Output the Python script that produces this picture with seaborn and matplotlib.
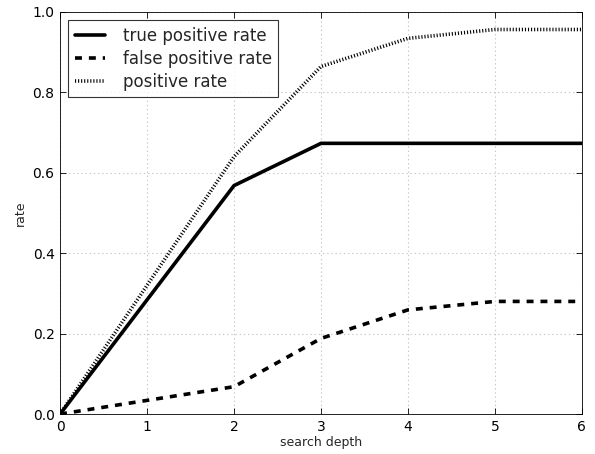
import matplotlib
matplotlib.use("Agg")
import matplotlib.pyplot as plt
import pandas as pd
import seaborn as sns

# values
depth = [0, 1, 2, 3, 4, 5, 6]
true_pos = [0.0, 0.284, 0.568, 0.673, 0.673, 0.673, 0.673]
false_pos = [0.0, 0.034, 0.068, 0.188, 0.259, 0.280, 0.280]
pos_rate = [0.0, 0.32, 0.64, 0.864, 0.934, 0.956, 0.956]

series = [("true positive rate", true_pos, "-"),
          ("false positive rate", false_pos, (0, (5, 5))),
          ("positive rate", pos_rate, (0, (0.8, 1.4)))]

sns.set_style("white")
plt.rcParams["font.family"] = ["DejaVu Sans"]
plt.rcParams["lines.scale_dashes"] = False

fig = plt.figure(figsize=(5.95, 4.54), dpi=100)
ax = fig.add_axes([0.101, 0.088, 0.877, 0.886])

for name, vals, ls in series:
    df = pd.DataFrame({"depth": depth, "rate": vals})
    sns.lineplot(data=df, x="depth", y="rate", ax=ax, color="black",
                 linestyle=ls, linewidth=2.6, label=name)

ax.set_xlim(0, 6)
ax.set_ylim(0, 1.0)
ax.set_xticks(range(0, 7))
ax.set_yticks([0.0, 0.2, 0.4, 0.6, 0.8, 1.0])
ax.set_yticklabels(["0.0", "0.2", "0.4", "0.6", "0.8", "1.0"])
ax.set_xlabel("search depth", fontsize=9, labelpad=2)
ax.set_ylabel("rate", fontsize=9, labelpad=4)
ax.tick_params(direction="in", length=4, width=0.6, labelsize=10,
               top=True, right=True, bottom=True, left=True, pad=4,
               colors="black")
ax.grid(True, linestyle=(0, (1, 2)), color="#c8c8c8", linewidth=0.8)
for sp in ax.spines.values():
    sp.set_color("black")
    sp.set_linewidth(0.6)

leg = ax.legend(loc="upper left", fontsize=12, frameon=True, fancybox=False,
                handlelength=1.8, handletextpad=1.05, borderaxespad=0.5,
                labelspacing=0.3)
leg.get_frame().set_edgecolor("black")
leg.get_frame().set_linewidth(0.8)

fig.savefig("out.png", dpi=100)
